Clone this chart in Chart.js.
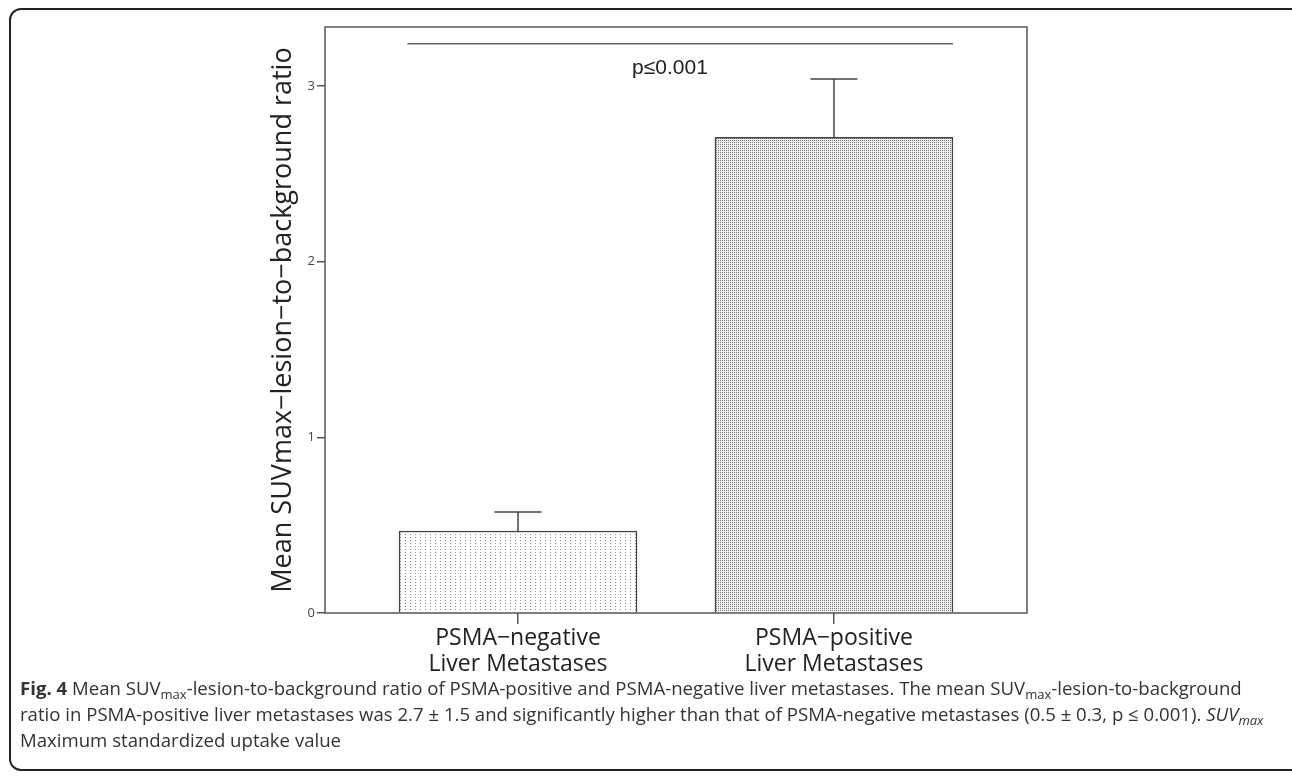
<!DOCTYPE html>
<html>
<head>
    <meta charset="UTF-8">
    <title>SUVmax lesion-to-background ratio</title>
    <script src="https://cdn.jsdelivr.net/npm/chart.js"></script>
    <style>
        html, body {
            margin: 0;
            padding: 0;
            background: #fff;
            width: 1292px;
            height: 776px;
            overflow: hidden;
        }
        #frame {
            position: absolute;
            left: 9px;
            top: 8px;
            width: 1300px;
            height: 763px;
            border: 2px solid #222;
            border-radius: 12px;
            box-sizing: border-box;
        }
        #myChart {
            position: absolute;
            left: 0;
            top: 0;
        }
        #caption {
            position: absolute;
            left: 20px;
            top: 675px;
            font-family: "Open Sans", sans-serif;
            font-size: 18.6px;
            line-height: 26px;
            color: #333;
            white-space: nowrap;
        }
        #caption sub {
            font-size: 70%;
            vertical-align: -4px;
            line-height: 0;
        }
    </style>
</head>
<body>
    <div id="frame"></div>
    <canvas id="myChart" width="1292" height="680"></canvas>
    <div id="caption">
        <b>Fig. 4</b> Mean SUV<sub>max</sub>-lesion-to-background ratio of PSMA-positive and PSMA-negative liver metastases. The mean SUV<sub>max</sub>-lesion-to-background<br>
        ratio in PSMA-positive liver metastases was 2.7 ± 1.5 and significantly higher than that of PSMA-negative metastases (0.5 ± 0.3, p ≤ 0.001). <i>SUV<sub>max</sub></i><br>
        Maximum standardized uptake value
    </div>

    <script>
        // data
        var categories = [
            ['PSMA\u2212negative', 'Liver Metastases'],
            ['PSMA\u2212positive', 'Liver Metastases']
        ];
        var meanRatio = [0.467, 2.708];
        var upperError = [0.575, 3.04];
        var yTicks = [0, 1, 2, 3];
        var pLabel = 'p\u22640.001';

        // small tiled patterns like the SPSS bar fills
        function makePattern(w, h, bg, dot, dots) {
            var c = document.createElement('canvas');
            c.width = w;
            c.height = h;
            var g = c.getContext('2d');
            g.fillStyle = bg;
            g.fillRect(0, 0, w, h);
            g.fillStyle = dot;
            dots.forEach(function (d) { g.fillRect(d[0], d[1], 1, 1); });
            return g.createPattern(c, 'repeat');
        }

        var ctx = document.getElementById('myChart').getContext('2d');
        var sparseDots = makePattern(5, 3, '#ffffff', '#8c8c8c', [[0, 0]]);
        var denseDots = makePattern(2, 2, '#f0f0f0', '#7c7c7c', [[0, 0]]);

        // plot box, error bars and the significance bracket
        var extras = {
            id: 'extras',
            afterDatasetsDraw: function (chart) {
                var g = chart.ctx;
                var xs = chart.scales.x;
                var ys = chart.scales.y;
                var a = chart.chartArea;
                g.save();
                g.strokeStyle = '#555';
                g.lineWidth = 1.5;
                g.strokeRect(a.left, a.top, a.right - a.left, a.bottom - a.top);

                g.strokeStyle = '#444';
                for (var i = 0; i < meanRatio.length; i++) {
                    var x = xs.getPixelForValue(i);
                    var y0 = ys.getPixelForValue(meanRatio[i]);
                    var y1 = ys.getPixelForValue(upperError[i]);
                    g.beginPath();
                    g.moveTo(x, y0);
                    g.lineTo(x, y1);
                    g.moveTo(x - 23.5, y1);
                    g.lineTo(x + 23.5, y1);
                    g.stroke();
                }

                g.strokeStyle = '#666';
                var sy = ys.getPixelForValue(3.24);
                g.beginPath();
                g.moveTo(xs.getPixelForValue(-0.35), sy);
                g.lineTo(xs.getPixelForValue(1.377), sy);
                g.stroke();

                g.fillStyle = '#222';
                g.font = '21px "Liberation Sans", Arial, sans-serif';
                g.textAlign = 'center';
                g.textBaseline = 'middle';
                g.fillText(pLabel, xs.getPixelForValue(0.481), ys.getPixelForValue(3.1));
                g.restore();
            }
        };

        var myChart = new Chart(ctx, {
            type: 'bar',
            data: {
                datasets: [{
                    data: meanRatio.map(function (v, i) { return { x: i, y: v }; }),
                    backgroundColor: [sparseDots, denseDots],
                    borderColor: '#444',
                    borderWidth: 1.5,
                    borderSkipped: 'bottom',
                    barThickness: 238
                }]
            },
            options: {
                responsive: false,
                animation: false,
                devicePixelRatio: 1,
                layout: {
                    padding: { left: 265, right: 265, top: 27, bottom: 0 }
                },
                plugins: {
                    legend: { display: false },
                    tooltip: { enabled: false }
                },
                scales: {
                    x: {
                        type: 'linear',
                        min: -0.611,
                        max: 1.611,
                        offset: false,
                        afterBuildTicks: function (scale) {
                            scale.ticks = categories.map(function (c, i) { return { value: i }; });
                        },
                        afterFit: function (scale) { scale.height = 67; },
                        border: { display: false },
                        grid: {
                            offset: false,
                            drawOnChartArea: false,
                            drawTicks: true,
                            tickLength: 11,
                            color: '#555',
                            lineWidth: 1.5
                        },
                        ticks: {
                            autoSkip: false,
                            maxRotation: 0,
                            padding: 2,
                            color: '#222',
                            font: { family: 'Open Sans', size: 23, lineHeight: 1.12 },
                            callback: function (value) { return categories[value]; }
                        }
                    },
                    y: {
                        min: 0,
                        max: 3.336,
                        afterBuildTicks: function (scale) {
                            scale.ticks = yTicks.map(function (v) { return { value: v }; });
                        },
                        afterFit: function (scale) { scale.width = 60; },
                        border: { display: false },
                        grid: {
                            drawOnChartArea: false,
                            drawTicks: true,
                            tickLength: 8,
                            color: '#555',
                            lineWidth: 1.5
                        },
                        ticks: {
                            padding: 2,
                            color: '#444',
                            font: { family: 'Open Sans', size: 13 }
                        },
                        title: {
                            display: true,
                            text: 'Mean SUVmax\u2212lesion\u2212to\u2212background ratio',
                            color: '#222',
                            padding: { top: 2, bottom: 0 },
                            font: { family: 'Open Sans', size: 27 }
                        }
                    }
                }
            },
            plugins: [extras]
        });
    </script>
</body>
</html>
